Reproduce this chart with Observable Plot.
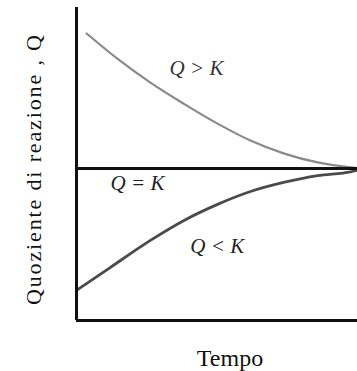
<!DOCTYPE html>
<html>
<head>
<meta charset="utf-8">
<script src="https://cdn.jsdelivr.net/npm/d3@7"></script>
<script src="https://cdn.jsdelivr.net/npm/@observablehq/plot@0.6"></script>
<style>
  html, body { margin: 0; padding: 0; background: #fff; }
  #chart svg { display: block; }
  #chart svg text { font-family: "Liberation Serif", "Times New Roman", "DejaVu Serif", serif !important; }
</style>
</head>
<body>
<div id="chart"></div>
<script>
// Values (time in arbitrary units 0–10, Q in arbitrary units 0–10)
const K = 4.86;
const timeHigh = [0.36, 1.49, 2.63, 3.81, 5.02, 6.19, 7.37, 8.58, 9.75, 10];
const qHigh    = [9.17, 8.34, 7.60, 6.93, 6.29, 5.75, 5.34, 5.05, 4.89, 4.87];
const timeLow  = [0, 1.21, 2.63, 3.81, 5.02, 6.19, 7.37, 8.58, 9.75, 10];
const qLow     = [0.96, 1.70, 2.56, 3.19, 3.71, 4.12, 4.41, 4.63, 4.75, 4.80];
const labels   = ["Q > K", "Q = K", "Q < K"];
const xTitle   = "Tempo";
const yTitle   = "Quoziente di reazione , Q";

const high = timeHigh.map((t, i) => ({t, q: qHigh[i]}));
const low  = timeLow.map((t, i) => ({t, q: qLow[i]}));

const chart = Plot.plot({
  width: 357,
  height: 371,
  marginLeft: 76,
  marginRight: 0,
  marginTop: 7,
  marginBottom: 51,
  x: {domain: [0, 10], axis: null},
  y: {domain: [0, 10], axis: null},
  style: {background: "#fff", fontFamily: "Liberation Serif"},
  marks: [
    Plot.line(high, {x: "t", y: "q", stroke: "#8a8a8a", strokeWidth: 2.2, curve: "monotone-x"}),
    Plot.line(low, {x: "t", y: "q", stroke: "#4a4a4a", strokeWidth: 2.8, curve: "monotone-x"}),
    Plot.ruleY([K], {stroke: "#111", strokeWidth: 3}),
    Plot.ruleX([0], {stroke: "#111", strokeWidth: 3}),
    Plot.ruleY([0], {stroke: "#111", strokeWidth: 3}),
    Plot.text([labels[0]], {x: 4.27, y: 8.05, text: d => d, fontSize: 21, fontStyle: "italic", fill: "#333"}),
    Plot.text([labels[1]], {x: 2.17, y: 4.38, text: d => d, fontSize: 21, fontStyle: "italic", fill: "#222"}),
    Plot.text([labels[2]], {x: 5.01, y: 2.38, text: d => d, fontSize: 21, fontStyle: "italic", fill: "#222"}),
    Plot.text([xTitle], {frameAnchor: "bottom", text: d => d, dx: 13, dy: 38, fontSize: 24, fill: "#111", textAnchor: "middle", lineAnchor: "middle"}),
    Plot.text([yTitle], {frameAnchor: "left", text: d => d, dx: -43, dy: 6, rotate: -90, fontSize: 22, fill: "#111", textAnchor: "middle", lineAnchor: "middle"})
  ]
});

d3.select(chart).selectAll("text")
  .filter(function () { return this.textContent === yTitle; })
  .attr("textLength", 270)
  .attr("lengthAdjust", "spacing");

document.getElementById("chart").appendChild(chart);
</script>
</body>
</html>
